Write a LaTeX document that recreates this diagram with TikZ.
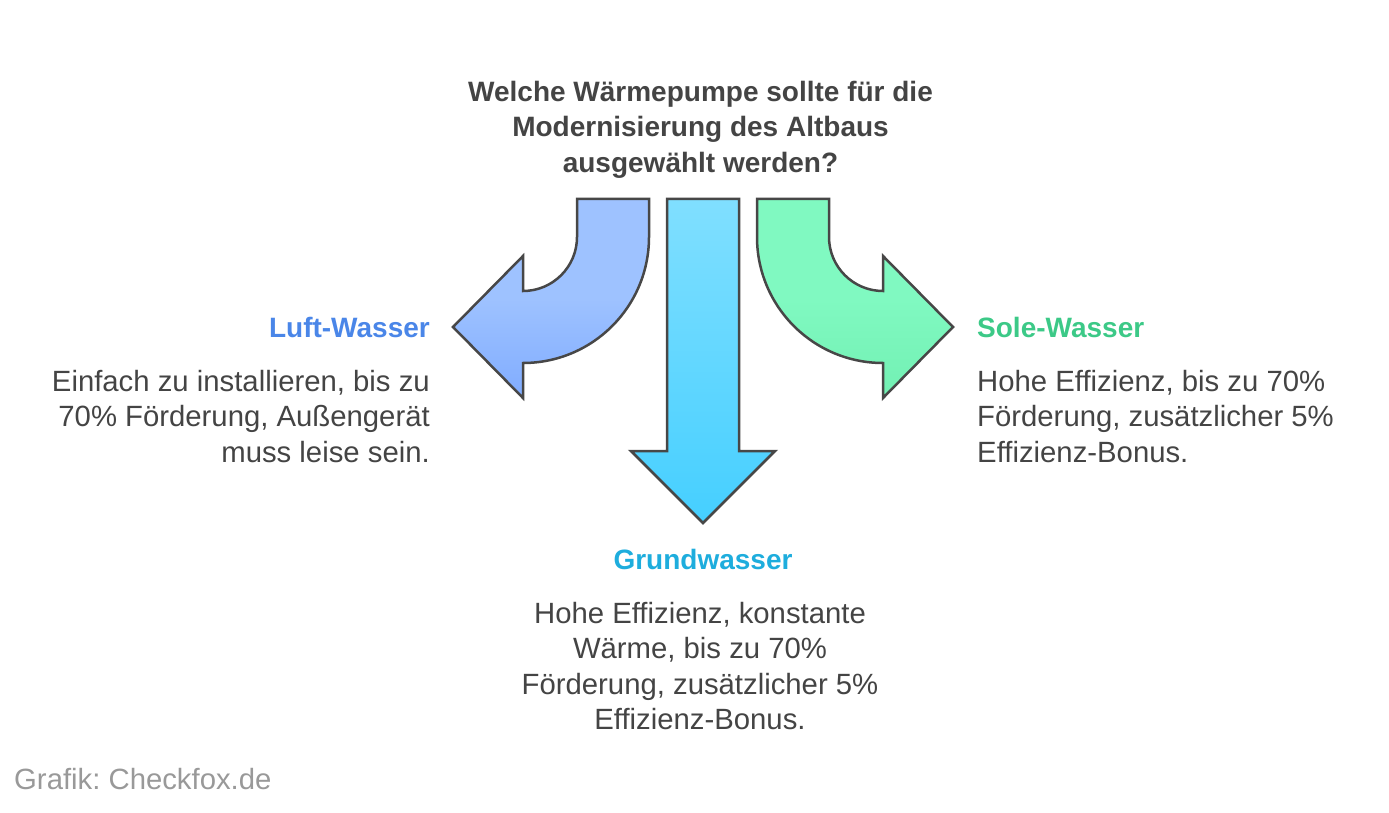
\documentclass[tikz,border=0pt]{standalone}
\usepackage{fontspec}
\setmainfont{Liberation Sans}
\frenchspacing
\definecolor{txtgray}{HTML}{444444}
\definecolor{edgegray}{HTML}{474747}
\definecolor{luftblue}{HTML}{4A86E8}
\definecolor{solegreen}{HTML}{3CC987}
\definecolor{grundblue}{HTML}{1EADDD}
\definecolor{footgray}{HTML}{999999}
\definecolor{lufttop}{HTML}{9EC2FF}
\definecolor{luftbot}{HTML}{80ACFF}
\definecolor{grundtop}{HTML}{80DFFF}
\definecolor{grundbot}{HTML}{45CFFF}
\definecolor{soletop}{HTML}{80F9C1}
\definecolor{solebot}{HTML}{72F0B3}

\begin{document}
\begin{tikzpicture}[x=1pt,y=-1pt,
  arrowshape/.style={draw=edgegray,line width=2.5pt,line join=miter},
  headtext/.style={font=\fontsize{28}{35.5}\selectfont\bfseries,inner sep=0pt},
  bodytext/.style={font=\fontsize{29.3}{35.5}\selectfont,text=txtgray,inner sep=0pt}]
\useasboundingbox (0,0) rectangle (1389,813);
% question
\node[headtext,text=txtgray,align=center,anchor=north] (question) at (700.5,81)
  {Welche Wärmepumpe sollte für die\\Modernisierung des Altbaus\\ausgewählt werden?};
% left arrow
\draw[arrowshape,top color=lufttop,bottom color=luftbot,middle color=lufttop]
  (577,199) -- (649,199) -- (649,237) arc[start angle=0,end angle=90,radius=126]
  -- (523,398) -- (453,327) -- (523,256) -- (523,291)
  arc[start angle=90,end angle=0,radius=54] -- cycle;
% middle arrow
\draw[arrowshape,top color=grundtop,bottom color=grundbot]
  (667,199) -- (739,199) -- (739,451) -- (775,451) -- (703,523)
  -- (631,451) -- (667,451) -- cycle;
% right arrow
\draw[arrowshape,top color=soletop,bottom color=solebot,middle color=soletop]
  (829,199) -- (757,199) -- (757,237) arc[start angle=180,end angle=90,radius=126]
  -- (883,398) -- (953,327) -- (883,256) -- (883,291)
  arc[start angle=90,end angle=180,radius=54] -- cycle;
% options
\node[headtext,text=luftblue,anchor=base east] (luft) at (430,337) {Luft-Wasser};
\node[bodytext,align=right,anchor=north east] (luftinfo) at (430,370)
  {Einfach zu installieren, bis zu\\70\% Förderung, Außengerät\\muss leise sein.};
\node[headtext,text=solegreen,anchor=base west] (sole) at (977,337) {Sole-Wasser};
\node[bodytext,align=left,anchor=north west] (soleinfo) at (977,370)
  {Hohe Effizienz, bis zu 70\%\\Förderung, zusätzlicher 5\%\\Effizienz-Bonus.};
\node[headtext,text=grundblue,anchor=base] (grund) at (703,569) {Grundwasser};
\node[bodytext,align=center,anchor=north] (grundinfo) at (700,602)
  {Hohe Effizienz, konstante\\Wärme, bis zu 70\%\\Förderung, zusätzlicher 5\%\\Effizienz-Bonus.};
% source
\node[bodytext,text=footgray,anchor=base west] (source) at (14,789) {Grafik: Checkfox.de};
\end{tikzpicture}
\end{document}
